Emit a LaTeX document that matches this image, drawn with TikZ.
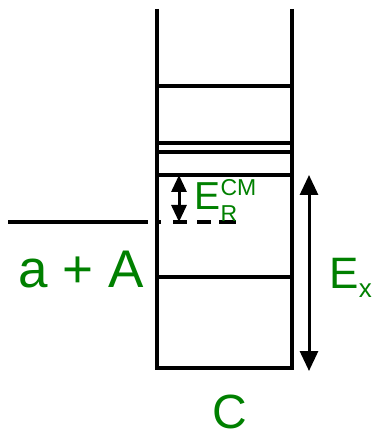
\documentclass[tikz,border=0pt]{standalone}
\usepackage{fontspec}
\setmainfont{Liberation Sans}
\usepackage{tikz}
\usetikzlibrary{arrows.meta,positioning,calc}
\definecolor{labelgreen}{RGB}{0,128,0}

\begin{document}
\begin{tikzpicture}[x=1pt, y=-1pt,
        wall/.style={line width=3.6pt},
        level/.style={line width=3.2pt},
        arrow/.style={{Triangle[length=20pt,width=18pt]}-{Triangle[length=20pt,width=18pt]}, line width=3pt},
        lbl/.style={text=labelgreen, inner sep=0pt}]
        \useasboundingbox (0,0) rectangle (371,435);

        % walls of the compound nucleus C
        \coordinate (LT) at (157,9);
        \coordinate (LB) at (157,368);
        \coordinate (RT) at (292,9);
        \coordinate (RB) at (292,368);
        \draw[wall] (LT) -- (LB);
        \draw[wall] (RT) -- (RB);
        \draw[wall] ($(LB)+(-1.8,0)$) -- ($(RB)+(1.8,0)$);

        % levels
        \foreach \y in {86,143,152,175,277}
            \draw[level] (157,\y) -- (292,\y);

        % entrance channel a + A
        \coordinate (ENL) at (8,222);
        \coordinate (ENR) at (148,222);
        \coordinate (DSL) at (158,222);
        \coordinate (DSR) at (240,222);
        \draw[level] (ENL) -- (ENR);
        \draw[level, dash pattern=on 3pt off 12pt on 14pt off 10pt on 14pt off 8pt on 17pt off 20pt] (DSL) -- (DSR);

        % energy arrows
        \coordinate (ERtop) at (179,175);
        \coordinate (ERbot) at (179,222);
        \coordinate (EXtop) at (309,175);
        \coordinate (EXbot) at (309,371);
        \draw[arrow, {Triangle[length=17pt,width=15pt]}-{Triangle[length=17pt,width=15pt]}] (ERtop) -- (ERbot);
        \draw[arrow] (EXtop) -- (EXbot);

        % labels
        \node[lbl, anchor=base west, font=\fontsize{53}{53}\selectfont] (aA) at (18,287) {a + A};
        \node[lbl, anchor=base west, text depth=0pt, font=\fontsize{39}{39}\selectfont] (ER) at (194,210) {E};
        \node[lbl, anchor=base west, text depth=0pt, font=\fontsize{23}{23}\selectfont] (ERsup) at ($(ER.base east)+(0,-14)$) {CM};
        \node[lbl, anchor=base west, font=\fontsize{23}{23}\selectfont] (ERsub) at ($(ER.base east)+(0,11)$) {R};
        \node[lbl, anchor=base west, font=\fontsize{44}{44}\selectfont] (EX) at (329,288) {E};
        \node[lbl, anchor=base west, font=\fontsize{26}{26}\selectfont] (EXsub) at ($(EX.base east)+(0,9)$) {x};
        \node[lbl, anchor=base, text depth=0pt, font=\fontsize{48}{48}\selectfont] (C) at (230,428) {C};

    \end{tikzpicture}
\end{document}
